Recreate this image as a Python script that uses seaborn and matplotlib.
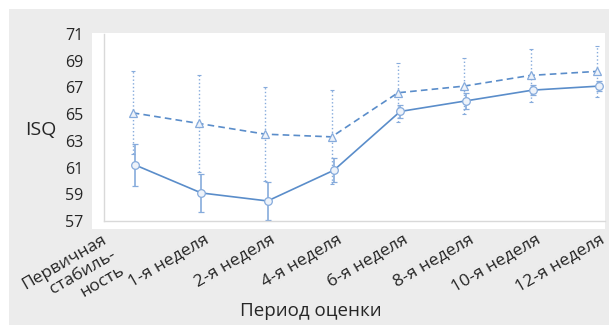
import numpy as np
import pandas as pd
import matplotlib
matplotlib.use('Agg')
import matplotlib.pyplot as plt
from matplotlib.patches import Rectangle
import seaborn as sns

# Данные (оценены по изображению)
periods = ['Первичная\nстабиль-\nность', '1-я неделя', '2-я неделя', '4-я неделя',
           '6-я неделя', '8-я неделя', '10-я неделя', '12-я неделя']
solid_mean = [61.2, 59.1, 58.5, 60.8, 65.2, 66.0, 66.8, 67.1]
solid_err = [1.6, 1.4, 1.4, 0.9, 0.5, 0.6, 0.4, 0.35]
dashed_mean = [65.1, 64.3, 63.5, 63.3, 66.6, 67.1, 67.9, 68.2]
dashed_err = [3.1, 3.6, 3.5, 3.5, 2.2, 2.1, 2.0, 1.9]
yticks = [57, 59, 61, 63, 65, 67, 69, 71]

sns.set_style('white')
plt.rcParams['font.family'] = ['Open Sans', 'DejaVu Sans']

line_col = '#5a8dca'
err_col = '#86abdc'
mk_face = '#eef3fa'

x = np.arange(len(periods))
df = pd.DataFrame({
    'x': np.concatenate([x + 0.017, x - 0.017]),
    'isq': solid_mean + dashed_mean,
    'group': ['A'] * len(x) + ['B'] * len(x),
})

fig = plt.figure(figsize=(6.09, 3.25), dpi=100)
fig.patch.set_facecolor('white')
W, H = 609, 325
fig.patches.append(Rectangle((9 / W, 0), 600 / W, (H - 9) / H, transform=fig.transFigure,
                             facecolor='#ececec', edgecolor='none', zorder=-10))
fig.patches.append(Rectangle((92 / W, (H - 229) / H), (605 - 92) / W, (229 - 33) / H,
                             transform=fig.transFigure, facecolor='white',
                             edgecolor='none', zorder=-9))

ax = fig.add_axes([104 / W, (H - 221) / H, (605 - 104) / W, (221 - 34) / H])
ax.set_facecolor('white')
ax.patch.set_alpha(0)

# Полосы погрешностей
eb = ax.errorbar(x - 0.017, dashed_mean, yerr=dashed_err, fmt='none', ecolor=err_col,
                 elinewidth=1.0, capsize=1.2, capthick=0.8, zorder=2)
eb[2][0].set_linestyle(':')
ax.errorbar(x + 0.017, solid_mean, yerr=solid_err, fmt='none', ecolor=err_col,
            elinewidth=1.2, capsize=2.2, capthick=0.9, zorder=2)

sns.lineplot(data=df, x='x', y='isq', style='group', ax=ax, color=line_col,
             markers={'A': 'o', 'B': '^'}, dashes={'A': '', 'B': (4, 2.5)},
             linewidth=1.2, markersize=5.5, markerfacecolor=mk_face,
             markeredgecolor=err_col, markeredgewidth=0.9, legend=False,
             sort=False, zorder=3)

ax.set_xlim(-0.45, 7.106)
ax.set_ylim(57, 71)
ax.set_yticks(yticks)
ax.set_yticklabels([str(v) for v in yticks], fontsize=11.5)
ax.set_xticks(x - 0.45)
ax.set_xticklabels([])
ax.tick_params(axis='x', length=3, color='#d0d0d0', direction='out')
ax.tick_params(axis='y', length=3, color='#d0d0d0', direction='out', pad=12)

# Подписи категорий (повёрнутые)
for i, name in enumerate(periods):
    if i == 0:
        dx = -23
    elif i == len(periods) - 1:
        dx = 0.5
    else:
        dx = 2.5
    ax.annotate(name, xy=(i, 0), xycoords=('data', 'axes fraction'),
                xytext=(dx, -7.5), textcoords='offset points', ha='right', va='top',
                rotation=30, rotation_mode='anchor', fontsize=12.5,
                multialignment='right', linespacing=1.15, annotation_clip=False)

for side in ['top', 'right']:
    ax.spines[side].set_visible(False)
for side in ['left', 'bottom']:
    ax.spines[side].set_color('#d9d9d9')
    ax.spines[side].set_linewidth(1.0)

ax.set_xlabel('')
ax.set_ylabel('')
fig.text(41 / W, 1 - 130 / H, 'ISQ', fontsize=14, ha='center', va='center')
fig.text(311 / W, 1 - 316.5 / H, 'Период оценки', fontsize=13.5, ha='center', va='baseline')

fig.savefig('out.png', dpi=100)
